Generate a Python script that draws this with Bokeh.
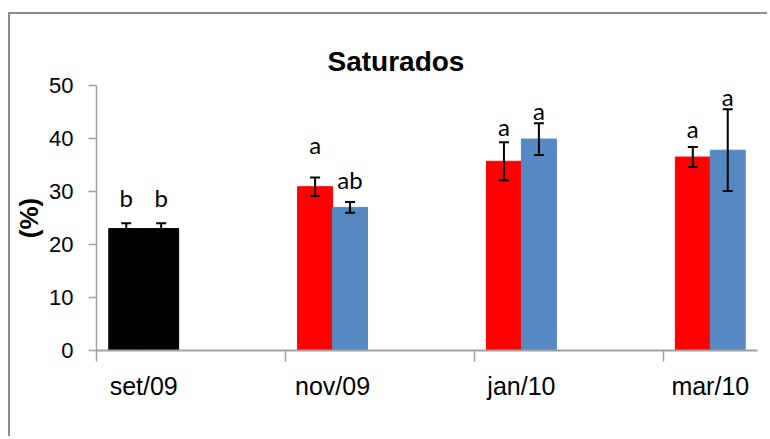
from bokeh.plotting import figure
from bokeh.models import ColumnDataSource, FixedTicker, Whisker, TeeHead, Range1d
from bokeh.core.properties import value
from bokeh.embed import file_html
from bokeh.resources import INLINE

# ---- data ----
categories = ["set/09", "nov/09", "jan/10", "mar/10"]
red_vals = [23.0, 30.9, 35.7, 36.5]
red_err = [1.0, 1.75, 3.6, 1.9]
blue_vals = [23.0, 27.0, 39.9, 37.8]
blue_err = [1.0, 1.0, 3.0, 7.7]
red_letters = ["b", "a", "a", "a"]
blue_letters = ["b", "ab", "a", "a"]
red_letter_y = [28.8, 38.8, 42.3, 41.8]
blue_letter_y = [28.8, 32.3, 45.2, 47.9]
y_ticks = [0, 10, 20, 30, 40, 50]

RED = "#ff0000"
BLUE = "#5689c2"
BLACK = "#000000"
AXIS = "#a0a0a0"

bw = 0.185
idx = list(range(len(categories)))
red_x = [i - bw / 2 for i in idx]
blue_x = [i + bw / 2 for i in idx]
red_col = [BLACK if c == "set/09" else RED for c in categories]
blue_col = [BLACK if c == "set/09" else BLUE for c in categories]

red_src = ColumnDataSource(dict(x=red_x, top=red_vals, color=red_col,
                                upper=[v + e for v, e in zip(red_vals, red_err)],
                                lower=[v - e for v, e in zip(red_vals, red_err)],
                                letter=red_letters, ly=red_letter_y))
blue_src = ColumnDataSource(dict(x=blue_x, top=blue_vals, color=blue_col,
                                 upper=[v + e for v, e in zip(blue_vals, blue_err)],
                                 lower=[v - e for v, e in zip(blue_vals, blue_err)],
                                 letter=blue_letters, ly=blue_letter_y))

p = figure(width=759, height=424, output_backend="svg", toolbar_location=None,
           x_range=Range1d(-0.25, 3.25), y_range=Range1d(0, 50),
           min_border_left=86, min_border_right=12, min_border_top=71,
           min_border_bottom=88)
p.margin = (12, 0, 0, 8)
p.styles = {"border-left": "2.5px solid #8c8c8c",
            "border-top": "2.5px solid #8c8c8c"}
p.outline_line_color = None
p.xgrid.grid_line_color = None
p.ygrid.grid_line_color = None
p.background_fill_color = "white"
p.border_fill_color = "white"

p.title.text = "Saturados"
p.title.align = "left"
p.title.offset = 231
p.title.standoff = 17
p.title.text_font = "Liberation Sans"
p.title.text_font_style = "bold"
p.title.text_font_size = "28px"
p.title.text_color = "black"

for src in (red_src, blue_src):
    p.vbar(x="x", top="top", width=bw, bottom=0, source=src,
           fill_color="color", line_color="color", line_width=1)
    w = Whisker(source=src, base="x", upper="upper", lower="lower",
                line_color="black", line_width=2, level="overlay",
                upper_head=TeeHead(size=10, line_width=2, line_color="black"),
                lower_head=TeeHead(size=10, line_width=2, line_color="black"))
    p.add_layout(w)
    p.text(x="x", y="ly", text="letter", source=src,
           text_font=value("Lato"), text_font_size="24px",
           text_align="center", text_baseline="middle", text_color="black")

# x axis: ticks at category boundaries (minor), labels at centres
xa = p.xaxis[0]
xa.ticker = FixedTicker(ticks=idx, minor_ticks=[i - 0.25 for i in idx])
xa.major_label_overrides = {i: c for i, c in zip(idx, categories)}
xa.major_tick_out = 0
xa.major_tick_in = 0
xa.minor_tick_out = 11
xa.minor_tick_in = 0
xa.minor_tick_line_color = AXIS
xa.minor_tick_line_width = 1.5
xa.axis_line_color = AXIS
xa.axis_line_width = 2
xa.major_label_standoff = 10
xa.major_label_text_font = "Liberation Sans"
xa.major_label_text_font_size = "25px"
xa.major_label_text_color = "black"

ya = p.yaxis[0]
ya.ticker = FixedTicker(ticks=y_ticks)
ya.minor_tick_line_color = None
ya.major_tick_out = 8
ya.major_tick_in = 0
ya.major_tick_line_color = AXIS
ya.major_tick_line_width = 1.5
ya.axis_line_color = AXIS
ya.axis_line_width = 1.5
ya.major_label_standoff = 15
ya.major_label_text_font = "Liberation Sans"
ya.major_label_text_font_size = "22px"
ya.major_label_text_color = "black"
ya.axis_label = "(%)"
ya.axis_label_text_font = "Liberation Sans"
ya.axis_label_text_font_style = "bold"
ya.axis_label_text_font_size = "26px"
ya.axis_label_text_color = "black"
ya.axis_label_standoff = 2

open("out.html", "w").write(file_html(p, INLINE))
